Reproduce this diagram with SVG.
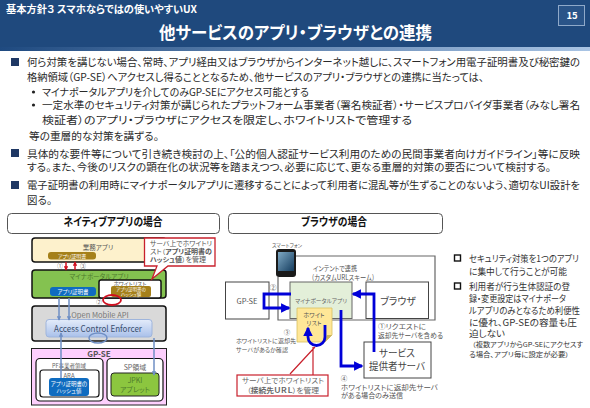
<svg xmlns="http://www.w3.org/2000/svg" width="590" height="408" viewBox="0 0 590 408">
<style>
text{font-family:"Noto Sans CJK JP","Noto Sans",sans-serif;font-feature-settings:"palt";fill:#555}
.b{font-size:10.500px;fill:#2a2a2a}
.c{text-anchor:middle}
.n{font-size:9px;fill:#333}
.wt{fill:#fff}
.hd{fill:#fff;stroke:#555;stroke-width:1}
.nb{stroke:#111;stroke-width:1.500}
.r{fill:none;stroke:#c8202c;stroke-width:1.200}
.blue{fill:none;stroke:#0000d8;stroke-width:2.800}
.sb{fill:none;stroke:#6f8fc4;stroke-width:1.500}
.gl{fill:none;stroke:#666;stroke-width:1.200}
.bx{fill:#fff;stroke:#444;stroke-width:1}
</style>
<defs>
<linearGradient id="band" x1="0" x2="1" y1="0" y2="0"><stop offset="0" stop-color="#1f4a80"/><stop offset="1" stop-color="#a9c4e4"/></linearGradient>
<linearGradient id="ace" x1="0" x2="0" y1="0" y2="1"><stop offset="0" stop-color="#e4ecfa"/><stop offset="1" stop-color="#a9c0ea"/></linearGradient>
<linearGradient id="scr" x1="0" x2="1" y1="0" y2="1"><stop offset="0" stop-color="#7fa9c4"/><stop offset="1" stop-color="#143c5e"/></linearGradient>
<marker id="ab" viewBox="0 0 6 6" refX="5" refY="3" markerWidth="3.400" markerHeight="3.400" orient="auto"><path d="M0 0L6 3L0 6z" fill="#0000d8"/></marker>
<marker id="as" viewBox="0 0 6 6" refX="5" refY="3" markerWidth="3" markerHeight="3" orient="auto"><path d="M0 0L6 3L0 6z" fill="#6f8fc4"/></marker>
<marker id="ar" viewBox="0 0 6 6" refX="5" refY="3" markerWidth="3" markerHeight="3" orient="auto"><path d="M0 0L6 3L0 6z" fill="#d01020"/></marker>
</defs>
<rect width="590" height="408" fill="#fff"/>
<g id="header">
<rect width="590" height="47" fill="#1f497d"/>
<rect y="47" width="590" height="4" fill="url(#band)"/>
<text class="wt" x="6" y="13" font-size="10" font-weight="700" style="fill:#fff" textLength="191" lengthAdjust="spacingAndGlyphs">基本方針３ スマホならではの使いやすいUX</text>
<text class="wt" x="159" y="38.500" font-size="17.500" font-weight="700" style="fill:#fff" textLength="273" lengthAdjust="spacingAndGlyphs">他サービスのアプリ・ブラウザとの連携</text>
<rect x="558.500" y="5.500" width="26" height="20" fill="#2a5488" stroke="#8fa9c9"/>
<text x="572" y="19" font-size="9.500" font-weight="700" text-anchor="middle" style="fill:#fff">15</text>
</g>
<g id="body">
<rect x="11" y="58" width="8" height="8" fill="#1f3864"/>
<text class="b" x="27" y="66" textLength="553" lengthAdjust="spacingAndGlyphs">何ら対策を講じない場合、常時、アプリ経由又はブラウザからインターネット越しに、スマートフォン用電子証明書及び秘密鍵の</text>
<text class="b" x="27" y="81" textLength="457" lengthAdjust="spacingAndGlyphs">格納領域（GP-SE）へアクセスし得ることとなるため、他サービスのアプリ・ブラウザとの連携に当たっては、</text>
<circle cx="33.500" cy="92" r="1.600" fill="#222"/>
<text class="b" x="42" y="96" textLength="267" lengthAdjust="spacingAndGlyphs">マイナポータルアプリを介してのみGP-SEにアクセス可能とする</text>
<circle cx="33.500" cy="105" r="1.600" fill="#222"/>
<text class="b" x="42" y="109" textLength="538" lengthAdjust="spacingAndGlyphs">一定水準のセキュリティ対策が講じられたプラットフォーム事業者（署名検証者）・サービスプロバイダ事業者（みなし署名</text>
<text class="b" x="42" y="124" textLength="370" lengthAdjust="spacingAndGlyphs">検証者）のアプリ・ブラウザにアクセスを限定し、ホワイトリストで管理する</text>
<text class="b" x="29" y="140" textLength="130" lengthAdjust="spacingAndGlyphs">等の重層的な対策を講ずる。</text>
<rect x="11" y="149" width="8" height="8" fill="#1f3864"/>
<text class="b" x="27" y="158" textLength="553" lengthAdjust="spacingAndGlyphs">具体的な要件等について引き続き検討の上、「公的個人認証サービス利用のための民間事業者向けガイドライン」等に反映</text>
<text class="b" x="27" y="171" textLength="524" lengthAdjust="spacingAndGlyphs">する。また、今後のリスクの顕在化の状況等を踏まえつつ、必要に応じて、更なる重層的対策の要否について検討する。</text>
<rect x="11" y="181" width="8" height="8" fill="#1f3864"/>
<text class="b" x="27" y="189" textLength="553" lengthAdjust="spacingAndGlyphs">電子証明書の利用時にマイナポータルアプリに遷移することによって利用者に混乱等が生ずることのないよう、適切なUI設計を</text>
<text class="b" x="27" y="204" textLength="25" lengthAdjust="spacingAndGlyphs">図る。</text>
</g>
<g id="native-title"><rect class="hd" x="7.500" y="213.500" width="212" height="20" rx="4"/><text x="113" y="226" class="c" font-size="11.500" font-weight="700" style="fill:#111" textLength="99" lengthAdjust="spacingAndGlyphs">ネイティブアプリの場合</text></g>
<g id="browser-title"><rect class="hd" x="228.500" y="213.500" width="214" height="20" rx="4"/><text x="334" y="226" class="c" font-size="11.500" font-weight="700" style="fill:#111" textLength="66" lengthAdjust="spacingAndGlyphs">ブラウザの場合</text></g>
<g id="business-app"><rect class="nb" x="32" y="238" width="134" height="24" rx="3" fill="#fdf1cc"/><text class="c" x="98" y="250" font-size="6.500">業務アプリ</text><rect x="48" y="252" width="48" height="7.500" rx="3" fill="#a5801a"/><text class="c" x="72" y="258" font-size="5" style="fill:#fff">アプリ証明書</text></g>
<g id="myna-app"><rect class="nb" x="32" y="270" width="134" height="28" rx="3" fill="#84c250"/><text class="c" x="99" y="279" font-size="6.500" style="fill:#4c7a2c">マイナポータルアプリ</text><rect x="50" y="287" width="46" height="9" rx="3" fill="#0f6cc0"/><text class="c" x="73" y="294" font-size="5.500" style="fill:#fff">アプリ証明書</text></g>
<g id="whitelist"><rect x="99" y="280" width="62" height="18" rx="2" fill="#fff" stroke="#111" stroke-width="1.500"/><text class="c" x="130" y="285.500" font-size="5.500">ホワイトリスト</text><rect x="111" y="286" width="40" height="11" rx="2" fill="#a5801a"/><text class="c" x="131" y="291" font-size="4.500" style="fill:#fff">アプリ証明書の</text><text class="c" x="131" y="296" font-size="4.500" style="fill:#fff">ハッシュ値</text></g>
<g id="callout"><path d="M144.500 238H215V266H168L152 279L157 266H144.500Z" fill="#fff" stroke="#c8202c" stroke-width="1.300"/><text x="150" y="246" font-size="6.500" textLength="62" lengthAdjust="spacingAndGlyphs">サーバ上でホワイトリ</text><text x="150" y="254" font-size="6.500" textLength="62" lengthAdjust="spacingAndGlyphs">スト（<tspan font-weight="700">アプリ証明書の</tspan></text><text x="150" y="262" font-size="6.500" textLength="56" lengthAdjust="spacingAndGlyphs"><tspan font-weight="700">ハッシュ値</tspan>）を管理</text></g>
<g id="omapi"><rect class="nb" x="32" y="306" width="134" height="35" rx="3" fill="#d9d9d9"/><text class="c" x="100" y="318" font-size="7.500" style="fill:#777">Open Mobile API</text></g>
<g id="ace-box"><rect x="46" y="319.500" width="106" height="17.500" rx="3" fill="url(#ace)" stroke="#9fb5dc"/><text class="c" x="98" y="331.500" font-size="9" style="fill:#3a4f6e" textLength="88" lengthAdjust="spacingAndGlyphs">Access Control Enforcer</text></g>
<g id="gpse-left"><rect x="31.500" y="348.500" width="135" height="56.500" fill="#fdcffd" stroke="#222" stroke-width="1"/><text class="c" x="99" y="356.500" font-size="8" font-weight="700">GP-SE</text></g>
<g id="pf-area"><rect x="36" y="358.500" width="67" height="42.500" rx="4" fill="#fff" stroke="#111" stroke-width="1.200"/><text class="c" x="69" y="368" font-size="5.500" style="fill:#666">PF事業者領域</text><rect x="40" y="370" width="59" height="27" rx="3" fill="#fff" stroke="#111" stroke-width="1.200"/><text class="c" x="69" y="377.500" font-size="6" style="fill:#666">ARA</text><rect x="49" y="378" width="40" height="18" rx="3" fill="#0f6cc0"/><text class="c" x="69" y="386" font-size="5.500" style="fill:#fff">アプリ証明書の</text><text class="c" x="69" y="393" font-size="5.500" style="fill:#fff">ハッシュ値</text></g>
<g id="sp-area"><rect x="107" y="358.500" width="56" height="42.500" rx="4" fill="#fff" stroke="#111" stroke-width="1.200"/><text class="c" x="135" y="370" font-size="7" style="fill:#666">SP領域</text><rect x="111" y="373" width="48" height="23" rx="3" fill="#8cc63f" stroke="#222"/><text class="c" x="135" y="383" font-size="7" style="fill:#4c7a2c">JPKI</text><text class="c" x="135" y="391.500" font-size="7" style="fill:#4c7a2c">アプレット</text></g>
<g id="phone"><text class="c" x="287" y="246.500" font-size="5" style="fill:#555">スマートフォン</text><rect x="276" y="249" width="20" height="28" rx="3" fill="#1a1a1a"/><rect x="278" y="252" width="16" height="19" fill="url(#scr)"/></g>
<g id="gpse-right"><rect class="bx" x="225.500" y="282" width="43.500" height="37"/><text class="c" x="247" y="304" font-size="7.500" style="fill:#555">GP-SE</text></g>
<g id="phone-frame"><path class="gl" d="M296 256H435V320H278V277"/></g>
<g id="myna-right"><rect x="290" y="282" width="62" height="36.500" fill="#e3efd9" stroke="#666"/><text class="c" x="321" y="303" font-size="5.500" style="fill:#666" textLength="52" lengthAdjust="spacingAndGlyphs">マイナポータルアプリ</text></g>
<g id="browser"><rect class="bx" x="366" y="282" width="62.500" height="36.500"/><text class="c" x="398" y="304.500" font-size="10" style="fill:#444">ブラウザ</text></g>
<g id="note"><path d="M297 308H332V335L325 342H297Z" fill="#ffe797" stroke="#d8c060" stroke-width=".8"/><path d="M325 342L327 335H332Z" fill="#c9b45e"/><text class="c" x="314" y="316.500" font-size="6" style="fill:#555">ホワイト</text><text class="c" x="314" y="324.500" font-size="6" style="fill:#555">リスト</text></g>
<g id="server"><rect class="bx" x="364" y="342" width="67" height="36" stroke-width="1.200"/><text class="c" x="397" y="357" font-size="10" style="fill:#444" textLength="36" lengthAdjust="spacingAndGlyphs">サービス</text><text class="c" x="397" y="369.500" font-size="10" style="fill:#444" textLength="56" lengthAdjust="spacingAndGlyphs">提供者サーバ</text></g>
<g id="red-note"><rect x="237" y="375" width="91" height="21" fill="#fff" stroke="#c8202c" stroke-width="1.200"/><text class="c" x="283" y="383" font-size="7" style="fill:#666" textLength="82" lengthAdjust="spacingAndGlyphs">サーバ上でホワイトリスト</text><text class="c" x="283" y="393" font-size="7" style="fill:#666" textLength="72" lengthAdjust="spacingAndGlyphs">（<tspan font-weight="700">接続先ＵＲＬ</tspan>）を管理</text></g>
<g id="connectors">
<path d="M66 262V270" fill="none" stroke="#d01020" stroke-width="1.500" marker-end="url(#ar)"/>
<path d="M75 270V262" fill="none" stroke="#d01020" stroke-width="1.500" marker-end="url(#ar)"/>
<ellipse cx="112" cy="300" rx="9" ry="5" fill="none" stroke="#d01020" stroke-width="1.800"/>
<path class="sb" d="M59 298V320" marker-end="url(#as)"/>
<path class="sb" d="M69 298V320" marker-end="url(#as)"/>
<path class="sb" d="M61 378V333" marker-end="url(#as)"/>
<path class="sb" d="M154 338V375" marker-end="url(#as)"/>
<ellipse cx="98" cy="338" rx="9" ry="5" class="sb"/>
<path class="blue" d="M291 294H264V308H289" marker-end="url(#ab)"/>
<path class="blue" d="M374 352V294H353" marker-end="url(#ab)"/>
<path class="blue" d="M341 310V366H362" marker-end="url(#ab)"/>
<path class="blue" d="M325 325V337A8.500 8.500 0 0 1 308 337V328" marker-end="url(#ab)"/>
<path class="r" d="M315 347L290 374M313 347V375"/>
</g>
<g id="labels">
<text class="c" x="60" y="268" font-size="5.500">①</text>
<text class="c" x="83" y="268" font-size="5.500">③</text>
<text class="c" x="99" y="304" font-size="5.500">②</text>
<text class="c" x="273" y="290" font-size="7">②</text>
<text x="313" y="271" font-size="7" textLength="44" lengthAdjust="spacingAndGlyphs">インテントで連携</text>
<text x="312" y="280" font-size="7" textLength="62" lengthAdjust="spacingAndGlyphs">(カスタムURLスキーム)</text>
<text class="c" x="287" y="335" font-size="6.500">③</text>
<text x="236" y="343" font-size="5.500" textLength="60" lengthAdjust="spacingAndGlyphs">ホワイトリストに返却先</text>
<text x="236" y="352" font-size="5.500" textLength="52" lengthAdjust="spacingAndGlyphs">サーバがあるか確認</text>
<text x="378" y="329" font-size="7" textLength="48" lengthAdjust="spacingAndGlyphs">①リクエストに</text>
<text x="378" y="338" font-size="7" textLength="65" lengthAdjust="spacingAndGlyphs">返却先サーバを含める</text>
<text class="c" x="344" y="381" font-size="6.500">④</text>
<text x="341" y="389.500" font-size="7" textLength="97" lengthAdjust="spacingAndGlyphs">ホワイトリストに返却先サーバ</text>
<text x="341" y="397.500" font-size="7" textLength="62" lengthAdjust="spacingAndGlyphs">がある場合のみ送信</text>
</g>
<g id="notes">
<rect x="454.500" y="255" width="6" height="6" fill="none" stroke="#111" stroke-width="1.400"/>
<text class="n" x="469" y="261.500" textLength="110" lengthAdjust="spacingAndGlyphs">セキュリティ対策を1つのアプリ</text>
<text class="n" x="469" y="274.500" textLength="98" lengthAdjust="spacingAndGlyphs">に集中して行うことが可能</text>
<rect x="454.500" y="283" width="6" height="6" fill="none" stroke="#111" stroke-width="1.400"/>
<text class="n" x="469" y="289.500" textLength="101" lengthAdjust="spacingAndGlyphs">利用者が行う生体認証の登</text>
<text class="n" x="469" y="301.500" textLength="97" lengthAdjust="spacingAndGlyphs">録・変更設定はマイナポータ</text>
<text class="n" x="469" y="313.500" textLength="111" lengthAdjust="spacingAndGlyphs">ルアプリのみとなるため利便性</text>
<text class="n" x="469" y="325.500" textLength="108" lengthAdjust="spacingAndGlyphs">に優れ、GP-SEの容量も圧</text>
<text class="n" x="469" y="336.500" textLength="36" lengthAdjust="spacingAndGlyphs">迫しない</text>
<text x="472" y="347" font-size="6.500" style="fill:#333" textLength="111" lengthAdjust="spacingAndGlyphs">（複数アプリからGP-SEにアクセスす</text>
<text x="469" y="357" font-size="6.500" style="fill:#333" textLength="100" lengthAdjust="spacingAndGlyphs">る場合、アプリ毎に設定が必要）</text>
</g>
</svg>
